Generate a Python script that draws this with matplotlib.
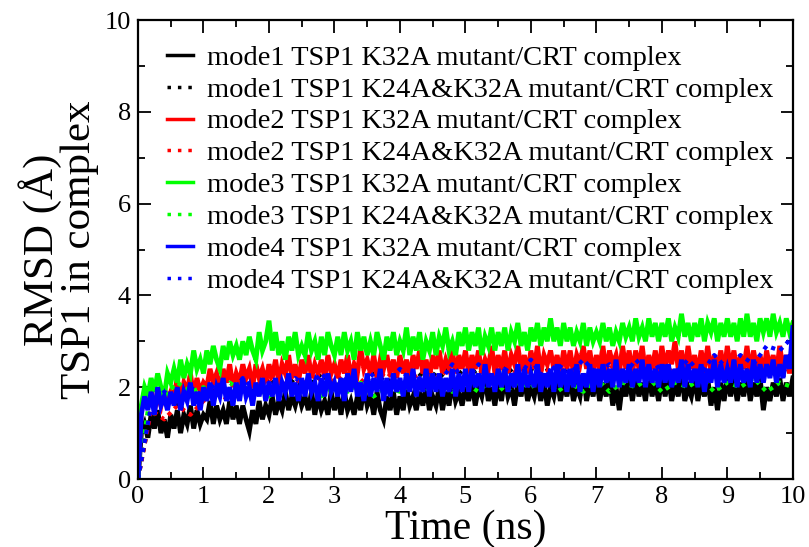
import numpy as np
import matplotlib
matplotlib.use("Agg")
import matplotlib.pyplot as plt
from matplotlib.ticker import MultipleLocator

plt.rcParams['font.family'] = ['Liberation Serif', 'DejaVu Serif']

# time grids (ns)
t = np.arange(0, 10.001, 0.05)   # single mutant runs
t2 = np.arange(0, 10.001, 0.2)   # double mutant runs

# RMSD (A) of TSP1, K32A mutant complexes (0.05 ns steps)
m1_k32a = [0.0,
    1.0, 1.2, 0.9, 1.4, 1.1, 1.5, 1.0, 1.3, 0.9, 1.4,
    1.1, 1.5, 1.0, 1.4, 1.2, 1.6, 1.1, 1.5, 1.2, 1.4,
    1.3, 1.7, 1.2, 1.6, 1.3, 1.5, 1.2, 1.7, 1.3, 1.6,
    1.2, 1.6, 1.3, 1.05, 1.5, 1.2, 1.7, 1.3, 1.6, 1.4,
    1.8, 1.4, 1.7, 1.5, 1.9, 1.5, 1.8, 1.6, 1.9, 1.6,
    1.8, 1.5, 1.9, 1.4, 1.8, 1.5, 1.7, 1.4, 1.9, 1.5,
    1.8, 1.4, 1.9, 1.5, 1.7, 1.4, 1.8, 1.5, 2.0, 1.6,
    1.8, 1.4, 1.9, 1.5, 1.3, 1.8, 1.5, 1.9, 1.4, 1.8,
    1.5, 2.0, 1.6, 1.8, 1.5, 1.9, 1.6, 2.0, 1.5, 1.8,
    1.6, 2.0, 1.5, 1.9, 1.6, 2.1, 1.7, 1.9, 1.6, 2.0,
    1.7, 2.1, 1.6, 2.0, 1.8, 2.2, 1.7, 2.0, 1.6, 2.1,
    1.7, 2.2, 1.8, 2.0, 1.6, 2.1, 1.8, 2.2, 1.7, 2.0,
    1.8, 2.2, 1.7, 2.1, 1.6, 2.0, 1.8, 2.2, 1.7, 2.1,
    1.8, 2.2, 1.7, 2.0, 1.8, 2.3, 1.7, 2.1, 1.8, 2.2,
    1.7, 2.1, 1.8, 2.2, 1.6, 2.0, 1.5, 2.1, 1.8, 2.2,
    1.7, 2.2, 1.8, 2.1, 1.7, 2.3, 1.8, 2.1, 1.7, 2.2,
    1.8, 2.2, 1.7, 2.1, 1.8, 2.3, 1.7, 2.0, 1.8, 2.2,
    1.7, 2.1, 1.8, 2.2, 1.6, 2.0, 1.5, 2.1, 1.7, 2.2,
    1.8, 2.2, 1.7, 2.1, 1.8, 2.3, 1.7, 2.1, 1.8, 2.2,
    1.5, 2.0, 1.7, 2.1, 1.8, 2.2, 1.7, 2.1, 1.8, 2.2]
m2_k32a = [0.0,
    1.5, 1.9, 1.6, 2.0, 1.5, 1.8, 1.6, 2.0, 1.7, 1.9,
    1.8, 2.2, 1.7, 2.1, 1.9, 2.3, 1.8, 2.2, 1.9, 2.1,
    2.0, 2.4, 2.1, 2.3, 1.9, 2.4, 2.1, 2.5, 2.0, 2.3,
    2.1, 2.5, 2.2, 2.4, 2.0, 2.5, 2.2, 2.4, 2.1, 2.5,
    2.2, 2.6, 2.1, 2.5, 2.3, 2.7, 2.2, 2.5, 2.1, 2.6,
    2.3, 2.7, 2.2, 2.5, 2.3, 2.6, 2.2, 2.7, 2.3, 2.5,
    2.2, 2.6, 2.3, 2.7, 2.2, 2.5, 2.3, 2.85, 2.4, 2.6,
    2.3, 2.7, 2.2, 2.6, 2.4, 2.7, 2.3, 2.6, 2.2, 2.7,
    2.3, 2.6, 2.2, 2.7, 2.4, 2.8, 2.3, 2.6, 2.2, 2.7,
    2.4, 2.8, 2.3, 2.6, 2.4, 2.8, 2.3, 2.7, 2.4, 2.8,
    2.3, 2.7, 2.4, 2.8, 2.3, 2.6, 2.4, 2.9, 2.3, 2.7,
    2.4, 2.8, 2.3, 2.7, 2.5, 2.9, 2.4, 2.7, 2.3, 2.8,
    2.4, 2.9, 2.3, 2.7, 2.5, 2.8, 2.4, 2.7, 2.3, 2.8,
    2.4, 2.8, 2.3, 2.7, 2.5, 2.9, 2.4, 2.8, 2.3, 2.7,
    2.4, 2.9, 2.3, 2.8, 2.5, 2.7, 2.3, 2.9, 2.4, 2.8,
    2.3, 2.8, 2.4, 2.9, 2.3, 2.7, 2.4, 2.8, 2.3, 2.9,
    2.4, 2.8, 2.5, 3.0, 2.4, 2.8, 2.3, 2.9, 2.4, 2.7,
    2.3, 2.8, 2.4, 2.9, 2.3, 2.7, 2.4, 2.8, 2.3, 2.9,
    2.4, 2.8, 2.3, 2.7, 2.4, 2.9, 2.3, 2.8, 2.4, 2.7,
    2.3, 2.8, 2.4, 2.7, 2.3, 2.9, 2.4, 2.7, 2.3, 2.8]
m3_k32a = [0.0,
    1.6, 2.0, 1.8, 2.2, 1.9, 2.3, 2.0, 1.8, 2.3, 2.1,
    2.4, 2.1, 2.6, 2.2, 2.5, 2.3, 2.8, 2.4, 2.6, 2.3,
    2.8, 2.5, 2.9, 2.6, 2.4, 2.9, 2.6, 3.0, 2.7, 2.9,
    2.6, 3.0, 2.7, 3.1, 2.8, 2.6, 3.2, 2.8, 3.0, 3.45,
    2.8, 3.2, 2.7, 3.0, 2.6, 3.1, 2.8, 3.2, 2.7, 2.9,
    2.7, 3.2, 2.8, 3.0, 2.6, 3.1, 2.7, 3.2, 2.9, 2.7,
    3.1, 2.7, 3.2, 2.8, 3.0, 2.6, 3.2, 2.8, 3.1, 2.7,
    3.0, 2.7, 3.2, 2.9, 2.6, 3.1, 2.8, 3.2, 2.7, 3.0,
    2.8, 3.3, 2.7, 3.1, 2.8, 3.2, 2.6, 3.0, 2.8, 3.2,
    2.7, 3.1, 2.9, 3.3, 2.8, 3.0, 2.7, 3.2, 2.9, 3.3,
    2.8, 3.2, 2.9, 3.3, 2.7, 3.1, 2.9, 3.3, 2.8, 3.2,
    2.9, 3.3, 2.8, 3.2, 3.0, 3.4, 2.9, 3.2, 2.8, 3.3,
    3.0, 3.4, 2.9, 3.3, 3.0, 3.5, 3.0, 3.3, 2.9, 3.4,
    3.0, 3.3, 2.9, 3.2, 3.0, 3.4, 2.9, 3.3, 3.0, 3.2,
    3.0, 3.4, 3.0, 3.3, 2.9, 3.2, 3.0, 3.4, 3.1, 3.3,
    3.0, 3.5, 3.1, 3.3, 3.0, 3.5, 3.1, 3.4, 3.0, 3.4,
    3.1, 3.5, 3.0, 3.3, 3.1, 3.6, 3.1, 3.4, 3.0, 3.4,
    3.1, 3.5, 3.0, 3.4, 3.2, 3.5, 3.0, 3.4, 3.1, 3.5,
    3.1, 3.4, 3.0, 3.5, 3.1, 3.6, 3.1, 3.4, 3.0, 3.5,
    3.2, 3.5, 3.1, 3.6, 3.2, 3.4, 3.1, 3.5, 3.2, 3.4]
m4_k32a = [0.0,
    1.4, 1.8, 1.5, 1.9, 1.4, 2.0, 1.6, 1.8, 1.5, 1.9,
    1.6, 2.0, 1.5, 1.9, 1.7, 2.1, 1.6, 1.9, 1.5, 2.0,
    1.7, 2.1, 1.6, 2.0, 1.8, 2.2, 1.7, 2.0, 1.6, 2.1,
    1.7, 2.2, 1.8, 2.0, 1.6, 2.1, 1.8, 2.2, 1.7, 2.1,
    1.8, 2.2, 1.7, 2.1, 1.9, 2.3, 1.8, 2.1, 1.7, 2.2,
    1.8, 2.3, 1.9, 2.1, 1.7, 2.2, 1.8, 2.3, 1.9, 2.1,
    1.8, 2.2, 1.7, 2.3, 1.9, 2.4, 1.8, 2.1, 1.7, 2.3,
    1.8, 2.2, 1.9, 2.4, 1.7, 2.2, 1.8, 2.3, 1.9, 2.2,
    1.8, 2.3, 1.9, 2.4, 1.8, 2.2, 1.9, 2.4, 1.8, 2.3,
    1.9, 2.3, 1.8, 2.2, 1.9, 2.4, 1.8, 2.3, 1.9, 2.4,
    1.9, 2.4, 2.0, 2.3, 1.9, 2.5, 2.0, 2.3, 1.9, 2.4,
    2.0, 2.4, 1.9, 2.3, 2.0, 2.5, 1.9, 2.4, 2.0, 2.3,
    2.0, 2.5, 1.9, 2.3, 2.0, 2.4, 1.9, 2.5, 2.0, 2.4,
    1.9, 2.4, 2.0, 2.5, 1.9, 2.3, 2.0, 2.5, 1.9, 2.4,
    2.0, 2.5, 2.1, 2.4, 2.0, 2.6, 2.0, 2.4, 2.1, 2.5,
    2.0, 2.4, 2.1, 2.6, 2.0, 2.5, 2.1, 2.4, 2.0, 2.5,
    2.1, 2.5, 2.0, 2.4, 2.1, 2.6, 2.0, 2.5, 2.1, 2.4,
    2.0, 2.5, 1.9, 2.4, 2.1, 2.6, 2.0, 2.5, 2.1, 2.4,
    2.1, 2.6, 2.0, 2.5, 2.1, 2.4, 2.0, 2.6, 2.1, 2.5,
    2.1, 2.5, 2.2, 2.6, 2.1, 2.5, 2.2, 2.7, 2.4, 3.3]

# K24A&K32A double mutant complexes (0.2 ns steps, mostly hidden underneath)
m1_dbl = [0.0,
    1.5, 1.9, 1.6, 2.0, 1.7, 2.1, 1.8, 2.0, 1.9, 2.2,
    1.9, 2.2, 2.0, 2.3, 2.0, 2.2, 2.0, 2.3, 2.1, 2.4,
    2.1, 2.4, 2.2, 2.5, 2.2, 2.4, 2.1, 2.5, 2.2, 2.4,
    2.3, 2.6, 2.2, 2.8, 2.3, 2.7, 2.2, 2.6, 2.3, 2.5,
    2.2, 2.6, 2.3, 2.5, 2.2, 2.6, 2.3, 2.5, 2.2, 2.4]
m2_dbl = [0.0,
    1.5, 1.3, 1.6, 1.4, 1.7, 1.9, 1.7, 2.1, 1.9, 2.2,
    2.0, 2.3, 2.0, 2.4, 2.1, 2.3, 2.1, 2.4, 2.2, 2.5,
    2.2, 2.4, 2.2, 2.5, 2.3, 2.6, 2.2, 2.5, 2.3, 2.6,
    2.3, 2.5, 2.2, 2.6, 2.3, 2.5, 2.2, 2.6, 2.3, 2.5,
    2.3, 2.6, 2.2, 2.5, 2.3, 2.6, 2.2, 2.5, 2.3, 2.5]
m3_dbl = [0.0,
    2.0, 1.8, 2.1, 1.9, 2.0, 1.8, 2.1, 1.9, 2.0, 1.8,
    2.0, 1.9, 2.1, 1.8, 2.0, 1.9, 2.1, 1.8, 2.0, 1.9,
    2.1, 1.9, 2.2, 1.9, 2.1, 1.9, 2.2, 1.9, 2.1, 2.0,
    2.2, 1.9, 2.1, 1.9, 2.2, 1.9, 2.1, 2.0, 2.2, 1.9,
    2.1, 2.0, 2.2, 1.9, 2.1, 2.0, 2.2, 1.9, 2.1, 2.0]
m4_dbl = [0.0,
    1.6, 1.9, 1.7, 2.0, 1.8, 2.1, 1.8, 2.2, 1.9, 2.1,
    1.9, 2.2, 2.0, 2.3, 2.0, 2.2, 2.0, 2.3, 2.1, 2.4,
    2.1, 2.3, 2.1, 2.5, 2.1, 2.5, 2.2, 2.4, 2.2, 2.6,
    2.2, 2.5, 2.3, 2.6, 2.3, 2.5, 2.2, 2.6, 2.3, 2.5,
    2.3, 2.6, 2.3, 2.7, 2.4, 2.7, 2.5, 2.9, 2.8, 3.1]

labels = ["mode1 TSP1 K32A mutant/CRT complex",
          "mode1 TSP1 K24A&K32A mutant/CRT complex",
          "mode2 TSP1 K32A mutant/CRT complex",
          "mode2 TSP1 K24A&K32A mutant/CRT complex",
          "mode3 TSP1 K32A mutant/CRT complex",
          "mode3 TSP1 K24A&K32A mutant/CRT complex",
          "mode4 TSP1 K32A mutant/CRT complex",
          "mode4 TSP1 K24A&K32A mutant/CRT complex"]
colors = ["#000000", "#ff0000", "#00ff00", "#0000ff"]

fig = plt.figure(figsize=(8.09, 5.47), dpi=100)
ax = fig.add_axes([0.1706, 0.1243, 0.8094, 0.8391])

singles = [m1_k32a, m2_k32a, m3_k32a, m4_k32a]
doubles = [m1_dbl, m2_dbl, m3_dbl, m4_dbl]
for i in range(4):
    ax.plot(t, singles[i], color=colors[i], lw=3.5, solid_joinstyle='miter',
            label=labels[2 * i])
    ax.plot(t2, doubles[i], color=colors[i], lw=3.0, ls=(0, (1, 1.2)),
            label=labels[2 * i + 1])

ax.set_xlim(0, 10)
ax.set_ylim(0, 10)
ax.xaxis.set_major_locator(MultipleLocator(1))
ax.xaxis.set_minor_locator(MultipleLocator(0.5))
ax.yaxis.set_major_locator(MultipleLocator(2))
ax.yaxis.set_minor_locator(MultipleLocator(1))
ax.tick_params(which='both', direction='in', top=True, right=True,
               labelsize=19, width=1.3)
ax.tick_params(which='major', length=9, pad=5)
ax.tick_params(which='minor', length=5)
for s in ax.spines.values():
    s.set_linewidth(1.6)

ax.set_xlabel("Time (ns)", fontsize=30, labelpad=1)
ax.set_ylabel("RMSD (Å)\nTSP1 in complex", fontsize=31, linespacing=0.95,
              labelpad=4)

leg = ax.legend(loc='upper left', bbox_to_anchor=(0.027, 0.971), frameon=False,
                fontsize=20.5, handlelength=0.91, handletextpad=0.5,
                labelspacing=0.21, borderaxespad=0)
for h in leg.get_lines():
    h.set_linewidth(2.5)
    h.set_dashes((1, 2)) if h.get_linestyle() != '-' else None

fig.savefig("out.png", dpi=100)
